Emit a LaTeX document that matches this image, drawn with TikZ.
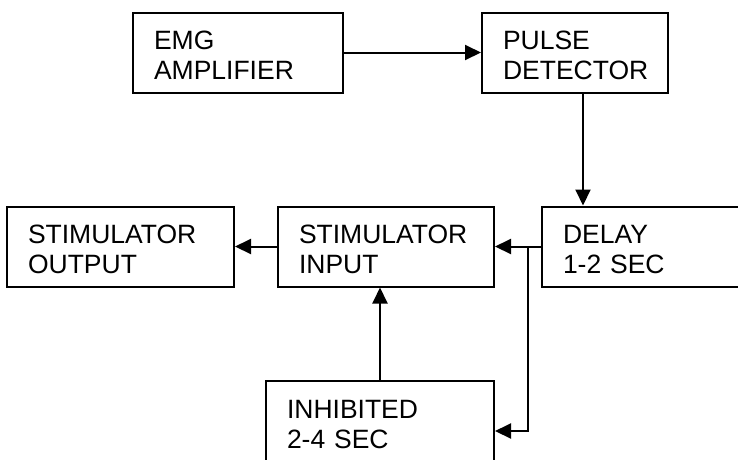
\documentclass[tikz,border=0pt]{standalone}
\usepackage{fontspec}
\setmainfont{Liberation Sans}
\usepackage{tikz}
\usetikzlibrary{arrows.meta,positioning,calc}

\tikzset{
  block/.style={draw,line width=2pt,align=left,inner xsep=21pt,
    font=\fontsize{26.5}{30}\selectfont,text height=18pt,text depth=24pt,
    minimum height=80pt},
  arr/.style={line width=2pt,-{Triangle[length=16pt,width=15pt]}}
}

\begin{document}
\begin{tikzpicture}[x=1pt,y=-1pt]
  \clip (0,0) rectangle (738,459);
  % top row
  \node[block,text width=168pt] (emg) at (238,52.5) {EMG\\AMPLIFIER};
  \node[block,text width=144pt] (pulse) at (575,52.5) {PULSE\\DETECTOR};
  % middle row
  \node[block,text width=185pt] (stimout) at (120.5,246.5) {STIMULATOR\\OUTPUT};
  \node[block,text width=174pt] (stimin) at (386,246.5) {STIMULATOR\\INPUT};
  \node[block,text width=176pt] (delay) at (651,246.5) {DELAY\\1-2 SEC};
  % bottom
  \node[block,text width=186pt] (inhib) at (380,421) {INHIBITED\\2-4 SEC};
  % connectors
  \draw[arr] (emg.east) -- (pulse.west);
  \draw[arr] ([xshift=8pt]pulse.south) -- ([xshift=8pt]pulse.south |- delay.north);
  \draw[arr] (delay.west) -- (stimin.east);
  \draw[arr] (stimin.west) -- (stimout.east);
  \coordinate (split) at ($(stimin.east)!0.71!(delay.west)$);
  \draw[arr] (split) |- ([yshift=-10pt]inhib.east);
  \draw[arr] (inhib.north) -- (inhib.north |- stimin.south);
\end{tikzpicture}
\end{document}
